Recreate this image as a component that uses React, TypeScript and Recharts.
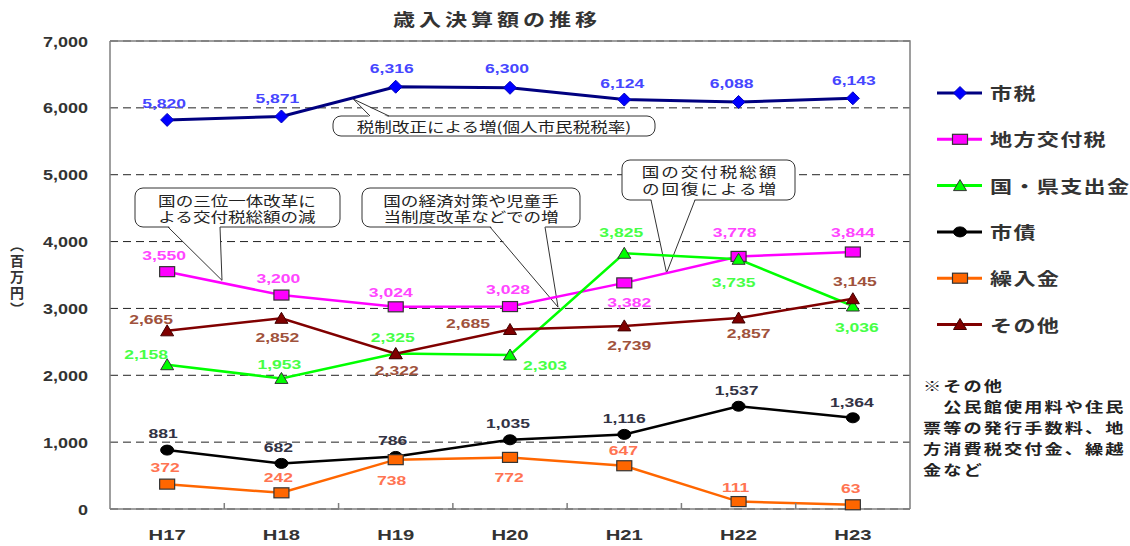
import React from 'react';
import {
  LineChart,
  Line,
  XAxis,
  YAxis,
  CartesianGrid,
  Legend,
  LabelList,
  Customized,
} from 'recharts';

// 年度
const years = ['H17', 'H18', 'H19', 'H20', 'H21', 'H22', 'H23'];

// 百万円
const cityTax = [5820, 5871, 6316, 6300, 6124, 6088, 6143];
const localAllocationTax = [3550, 3200, 3024, 3028, 3382, 3778, 3844];
const subsidies = [2158, 1953, 2325, 2303, 3825, 3735, 3036];
const cityBonds = [881, 682, 786, 1035, 1116, 1537, 1364];
const transfers = [372, 242, 738, 772, 647, 111, 63];
const others = [2665, 2852, 2322, 2685, 2739, 2857, 3145];

const yTicks = [0, 1000, 2000, 3000, 4000, 5000, 6000, 7000];

const W = 1130;
const H = 546;
const PLOT = { left: 110, top: 41, width: 800, height: 468 };
const Y_MAX = 7000;
const STEP = PLOT.width / years.length;
const xAt = (i: number) => PLOT.left + STEP * (i + 0.5);
const yAt = (v: number) => PLOT.top + PLOT.height * (1 - v / Y_MAX);

const NUM_FONT = '"Liberation Sans", Arial, sans-serif';
const JP_FONT = '"Noto Sans CJK JP", "Noto Sans", sans-serif';
const SX = 1.3; // 横長の文字

type Shape = 'diamond' | 'square' | 'triangle' | 'circle';

type Series = {
  key: string;
  name: string;
  values: number[];
  line: string;
  width: number;
  shape: Shape;
  fill: string;
  stroke: string;
  label: string;
  offsets: [number, number][];
};

const series: Series[] = [
  {
    key: 'cityTax',
    name: '市税',
    values: cityTax,
    line: '#000080',
    width: 3,
    shape: 'diamond',
    fill: '#0000ff',
    stroke: '#0000c0',
    label: '#4646ff',
    offsets: [[-3, -12], [-4, -13], [-4, -14], [-3, -15], [-2, -12], [-7, -14], [1, -13]],
  },
  {
    key: 'localAllocationTax',
    name: '地方交付税',
    values: localAllocationTax,
    line: '#ff00ff',
    width: 2.5,
    shape: 'square',
    fill: '#ff00ff',
    stroke: '#333333',
    label: '#ff46ff',
    offsets: [[-3, -12], [-3, -12], [-5, -10], [-2, -13], [5, 24], [-4, -19], [0, -15]],
  },
  {
    key: 'subsidies',
    name: '国・県支出金',
    values: subsidies,
    line: '#00ff00',
    width: 2.5,
    shape: 'triangle',
    fill: '#00ff00',
    stroke: '#333333',
    label: '#46ff46',
    offsets: [[-21, -6], [-2, -9], [-3, -12], [35, 15], [-3, -16], [-5, 28], [4, 26]],
  },
  {
    key: 'cityBonds',
    name: '市債',
    values: cityBonds,
    line: '#000000',
    width: 2.5,
    shape: 'circle',
    fill: '#000000',
    stroke: '#000000',
    label: '#333344',
    offsets: [[-4, -12], [-3, -11], [-3, -11], [-2, -12], [0, -11], [-2, -11], [-1, -11]],
  },
  {
    key: 'transfers',
    name: '繰入金',
    values: transfers,
    line: '#ff6600',
    width: 2.5,
    shape: 'square',
    fill: '#ff6600',
    stroke: '#333333',
    label: '#ff7452',
    offsets: [[-2, -12], [-3, -11], [-4, 25], [-1, 25], [-1, -11], [-3, -10], [-2, -12]],
  },
  {
    key: 'others',
    name: 'その他',
    values: others,
    line: '#800000',
    width: 2.5,
    shape: 'triangle',
    fill: '#800000',
    stroke: '#400000',
    label: '#a0523c',
    offsets: [[-16, -7], [-4, 24], [1, 21], [-42, -1], [5, 24], [10, 20], [2, -13]],
  },
];

const data = years.map((year, i) => {
  const row: Record<string, string | number> = { year };
  series.forEach((s) => {
    row[s.key] = s.values[i];
  });
  return row;
});

function Marker({ cx, cy, shape, fill, stroke }: { cx: number; cy: number; shape: Shape; fill: string; stroke: string }) {
  if (cx == null || cy == null) return null;
  if (shape === 'diamond') {
    return (
      <path
        d={`M${cx - 6.5},${cy} L${cx},${cy - 6.5} L${cx + 6.5},${cy} L${cx},${cy + 6.5} Z`}
        fill={fill}
        stroke={stroke}
        strokeWidth={1}
      />
    );
  }
  if (shape === 'square') {
    return <rect x={cx - 7.5} y={cy - 5} width={15} height={10} fill={fill} stroke={stroke} strokeWidth={1.2} />;
  }
  if (shape === 'triangle') {
    return (
      <path
        d={`M${cx - 6.5},${cy + 5} L${cx},${cy - 6} L${cx + 6.5},${cy + 5} Z`}
        fill={fill}
        stroke={stroke}
        strokeWidth={1}
      />
    );
  }
  return <ellipse cx={cx} cy={cy} rx={6.5} ry={5} fill={fill} stroke={stroke} />;
}

const YTick = (props: any) => {
  const { x, y, payload } = props;
  return (
    <text
      transform={`translate(${x},${y + 5.5}) scale(1.2,1)`}
      textAnchor="end"
      fill="#333"
      fontFamily={NUM_FONT}
      fontWeight="bold"
      fontSize={15}
    >
      {Number(payload.value).toLocaleString('en-US')}
    </text>
  );
};

const XTick = (props: any) => {
  const { x, y, payload, index } = props;
  return (
    <g>
      <text
        transform={`translate(${x},${y + 31}) scale(1.35,1)`}
        textAnchor="middle"
        fill="#333"
        fontFamily={NUM_FONT}
        fontWeight="bold"
        fontSize={15}
      >
        {payload.value}
      </text>
      {index < years.length - 1 && (
        <line x1={x + STEP / 2} x2={x + STEP / 2} y1={y} y2={y - 6} stroke="#7f7f7f" strokeWidth={1.5} />
      )}
    </g>
  );
};

function JpText({ x, y, children, size = 13.5, anchor = 'middle', spacing = 0, weight = 'normal', sx = SX, fill = '#222' }: any) {
  return (
    <text
      transform={`translate(${x},${y}) scale(${sx},1)`}
      textAnchor={anchor}
      fontFamily={JP_FONT}
      fontSize={size}
      fontWeight={weight}
      letterSpacing={spacing}
      fill={fill}
    >
      {children}
    </text>
  );
}

// 吹き出し
const callouts = [
  {
    box: [135, 188, 205, 39],
    base: [168, 220],
    side: 'bottom',
    tip: { at: 0.48, value: 3420 },
    lines: ['国の三位一体改革に', 'よる交付税総額の減'],
    textX: 237,
    textY: [205.5, 221.5],
    spacing: 0,
  },
  {
    box: [333, 116, 322, 20],
    base: [370, 389],
    side: 'top',
    tip: { at: 1.63, value: 6130 },
    lines: ['税制改正による増(個人市民税税率)'],
    textX: 494,
    textY: [132],
    spacing: 0,
  },
  {
    box: [362, 188, 218, 39],
    base: [490, 545],
    side: 'bottom',
    tip: { at: 3.42, value: 3020 },
    lines: ['国の経済対策や児童手', '当制度改革などでの増'],
    textX: 471,
    textY: [205.5, 221.5],
    spacing: 0,
  },
  {
    box: [622, 160, 173, 40],
    base: [651, 695],
    side: 'bottom',
    tip: { at: 4.37, value: 3530 },
    lines: ['国の交付税総額', 'の回復による増'],
    textX: 710,
    textY: [177, 194],
    spacing: 1.5,
  },
];

const noteLines = ['※その他', '　公民館使用料や住民', '票等の発行手数料、地', '方消費税交付金、繰越', '金など'];

function Annotations() {
  return (
    <g>
      <path
        d={`M${PLOT.left},${PLOT.top} H${PLOT.left + PLOT.width} V${PLOT.top + PLOT.height}`}
        fill="none"
        stroke="#7f7f7f"
        strokeWidth={1.5}
      />
      <JpText x={497} y={26} size={17} spacing={3} weight="bold" fill="#333">
        歳入決算額の推移
      </JpText>
      <text
        x={17}
        y={238}
        style={{ writingMode: 'vertical-rl' }}
        fontFamily={JP_FONT}
        fontSize={14}
        fontWeight="bold"
        letterSpacing={2}
        fill="#333"
      >
        （百万円）
      </text>
      {callouts.map((c, k) => {
        const [bx, by, bw, bh] = c.box;
        const tx = xAt(c.tip.at);
        const ty = yAt(c.tip.value);
        const edge = c.side === 'bottom' ? by + bh : by;
        const inner = c.side === 'bottom' ? edge - 1.5 : edge + 1.5;
        return (
          <g key={k}>
            <rect x={bx} y={by} width={bw} height={bh} rx={8} ry={8} fill="#fff" stroke="#333" strokeWidth={1} />
            <polygon points={`${c.base[0]},${inner} ${tx},${ty} ${c.base[1]},${inner}`} fill="#fff" stroke="none" />
            <line x1={c.base[0]} y1={edge} x2={tx} y2={ty} stroke="#333" strokeWidth={1} />
            <line x1={c.base[1]} y1={edge} x2={tx} y2={ty} stroke="#333" strokeWidth={1} />
            {c.lines.map((t, i) => (
              <JpText key={i} x={c.textX} y={c.textY[i]} spacing={c.spacing}>
                {t}
              </JpText>
            ))}
          </g>
        );
      })}
      {noteLines.map((t, i) => (
        <JpText key={i} x={923} y={390.5 + i * 21} size={14} anchor="start" spacing={1.6} weight="bold" fill="#222">
          {t}
        </JpText>
      ))}
    </g>
  );
}

function LegendBox({ payload }: any) {
  const keys = new Set((payload ?? []).map((p: any) => p.dataKey));
  const list = keys.size ? series.filter((s) => keys.has(s.key)) : series;
  return (
    <svg width={200} height={280}>
      {list.map((s, i) => {
        const cy = 23 + i * 46.3;
        return (
          <g key={s.key}>
            <line x1={7} x2={52} y1={cy} y2={cy} stroke={s.line} strokeWidth={3} />
            <Marker cx={30} cy={cy} shape={s.shape} fill={s.fill} stroke={s.stroke} />
            <JpText x={60} y={cy + 7} size={17} anchor="start" spacing={1} weight="bold" fill="#333">
              {s.name}
            </JpText>
          </g>
        );
      })}
    </svg>
  );
}

export default function App() {
  return (
    <div style={{ position: 'absolute', left: 0, top: 0, width: W, height: H, background: '#fff' }}>
      <LineChart width={W} height={H} data={data} margin={{ top: PLOT.top, right: W - PLOT.left - PLOT.width, bottom: 0, left: 0 }}>
        <CartesianGrid vertical={false} stroke="#222" strokeDasharray="8 5" />
        <XAxis
          dataKey="year"
          height={H - PLOT.top - PLOT.height}
          padding={{ left: STEP / 2, right: STEP / 2 }}
          tick={<XTick />}
          tickSize={0}
          tickMargin={0}
          tickLine={false}
          interval={0}
          axisLine={{ stroke: '#7f7f7f', strokeWidth: 1.5 }}
        />
        <YAxis
          domain={[0, Y_MAX]}
          ticks={yTicks}
          interval={0}
          width={PLOT.left}
          tick={<YTick />}
          tickSize={0}
          tickMargin={22}
          tickLine={false}
          axisLine={{ stroke: '#7f7f7f', strokeWidth: 1.5 }}
        />
        <Customized component={<Annotations />} />
        {series.map((s) => (
          <Line
            key={s.key}
            dataKey={s.key}
            name={s.name}
            stroke={s.line}
            strokeWidth={s.width}
            isAnimationActive={false}
            activeDot={false}
            dot={(p: any) => (
              <Marker key={`${s.key}-${p.index}`} cx={p.cx} cy={p.cy} shape={s.shape} fill={s.fill} stroke={s.stroke} />
            )}
          >
            <LabelList
              dataKey={s.key}
              content={(p: any) => {
                const [dx, dy] = s.offsets[p.index] ?? [0, -12];
                const x = (p.x ?? p.viewBox?.x) + dx;
                const y = (p.y ?? p.viewBox?.y) + dy;
                return (
                  <text
                    key={`${s.key}-lbl-${p.index}`}
                    transform={`translate(${x},${y}) scale(${SX},1)`}
                    textAnchor="middle"
                    fill={s.label}
                    fontFamily={NUM_FONT}
                    fontWeight="bold"
                    fontSize={13.5}
                  >
                    {Number(p.value).toLocaleString('en-US')}
                  </text>
                );
              }}
            />
          </Line>
        ))}
        <Legend
          layout="vertical"
          align="center"
          verticalAlign="middle"
          wrapperStyle={{ left: 930, top: 70, width: 200, height: 280 }}
          content={(props: any) => <LegendBox payload={props.payload} />}
        />
      </LineChart>
    </div>
  );
}
